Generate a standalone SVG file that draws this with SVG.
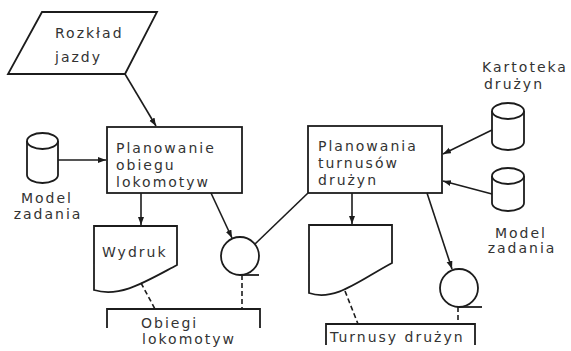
<svg xmlns="http://www.w3.org/2000/svg" width="571" height="351" viewBox="0 0 571 351">
  <style>
    .shape { fill: none; stroke: #1c1c1c; stroke-width: 1.8; stroke-linejoin: miter; }
    .wire { fill: none; stroke: #1c1c1c; stroke-width: 1.6; }
    .dash { fill: none; stroke: #1c1c1c; stroke-width: 1.6; stroke-dasharray: 5 3; }
    .lbl { font-family: "DejaVu Sans", "Liberation Sans", sans-serif; font-size: 14px; letter-spacing: 2px; fill: #333; }
    .mid { text-anchor: middle; }
  </style>
  <defs>
    <marker id="arr" markerUnits="userSpaceOnUse" markerWidth="9" markerHeight="7" refX="8" refY="3" orient="auto">
      <path d="M0,0 L8,3 L0,6 Z" fill="#1c1c1c"/>
    </marker>
  </defs>
  <rect width="571" height="351" fill="#fff"/>

  <!-- input: timetable -->
  <g id="rozklad">
    <path class="shape" d="M42,12 H157 L125,74 H8 Z"/>
    <text class="lbl" x="55" y="38">Rozkład</text>
    <text class="lbl" x="55" y="62">jazdy</text>
  </g>

  <!-- process: locomotive circulation planning -->
  <g id="plan-lok">
    <rect class="shape" x="107" y="127" width="135" height="66"/>
    <text class="lbl" x="116" y="153">Planowanie</text>
    <text class="lbl" x="116" y="170">obiegu</text>
    <text class="lbl" x="116" y="187">lokomotyw</text>
  </g>

  <!-- disk: task model (left) -->
  <g id="model-l">
    <ellipse class="shape" cx="42.5" cy="141" rx="15.5" ry="8"/>
    <path class="shape" d="M27,141 V175 A15.5,8 0 0 0 58,175 V141"/>
    <text class="lbl mid" x="47" y="203">Model</text>
    <text class="lbl mid" x="48" y="219">zadania</text>
  </g>

  <!-- printout -->
  <g id="wydruk">
    <path class="shape" d="M94,226 H177 V265 C145,282 120,298 94,290 Z"/>
    <text class="lbl" x="102" y="257">Wydruk</text>
  </g>

  <!-- tape (left) -->
  <g id="tasma-l">
    <circle class="shape" cx="240" cy="256" r="19"/>
    <path class="shape" d="M240,275 H259"/>
  </g>

  <!-- result: locomotive circulations -->
  <g id="obiegi">
    <path class="shape" d="M107,328 V309 H260 V328"/>
    <text class="lbl" x="141" y="328">Obiegi</text>
    <text class="lbl" x="142" y="344">lokomotyw</text>
  </g>

  <!-- process: crew rota planning -->
  <g id="plan-druz">
    <rect class="shape" x="308" y="126" width="134" height="67"/>
    <text class="lbl" x="318" y="151">Planowania</text>
    <text class="lbl" x="318" y="168">turnusów</text>
    <text class="lbl" x="318" y="185">drużyn</text>
  </g>

  <!-- disk: crew file -->
  <g id="kartoteka">
    <text class="lbl mid" x="525" y="72">Kartoteka</text>
    <text class="lbl mid" x="514" y="89">drużyn</text>
    <ellipse class="shape" cx="508" cy="111" rx="16" ry="8"/>
    <path class="shape" d="M492,111 V142 A16,8 0 0 0 524,142 V111"/>
  </g>

  <!-- disk: task model (right) -->
  <g id="model-r">
    <ellipse class="shape" cx="508" cy="176" rx="16" ry="8"/>
    <path class="shape" d="M492,176 V203 A16,8 0 0 0 524,203 V176"/>
    <text class="lbl mid" x="521" y="238">Model</text>
    <text class="lbl mid" x="522" y="253">zadania</text>
  </g>

  <!-- printout (blank) -->
  <g id="wydruk-2">
    <path class="shape" d="M309,225 H392 V263 C360,280 335,302 309,293 Z"/>
  </g>

  <!-- tape (right) -->
  <g id="tasma-r">
    <circle class="shape" cx="459" cy="288" r="19"/>
    <path class="shape" d="M459,307 H482"/>
  </g>

  <!-- result: crew rotas -->
  <g id="turnusy">
    <path class="shape" d="M326,345 V324 H475 V345"/>
    <text class="lbl" x="330" y="342">Turnusy drużyn</text>
  </g>

  <!-- connectors -->
  <g id="connectors">
    <path class="wire" marker-end="url(#arr)" d="M125,74 L156,126"/>
    <path class="wire" marker-end="url(#arr)" d="M58,160 H106"/>
    <path class="wire" marker-end="url(#arr)" d="M141,193 V225"/>
    <path class="wire" marker-end="url(#arr)" d="M211,193 L232,238"/>
    <path class="wire" d="M255,244 L308,193"/>
    <path class="wire" marker-end="url(#arr)" d="M492,130 L443,154"/>
    <path class="wire" marker-end="url(#arr)" d="M492,194 L443,181"/>
    <path class="wire" marker-end="url(#arr)" d="M352,193 V224"/>
    <path class="wire" marker-end="url(#arr)" d="M427,193 L452,269"/>
    <path class="dash" d="M141,283 L155,309"/>
    <path class="dash" d="M242,275 V309"/>
    <path class="dash" d="M345,291 L358,324"/>
    <path class="dash" d="M458,307 V324"/>
  </g>
</svg>
